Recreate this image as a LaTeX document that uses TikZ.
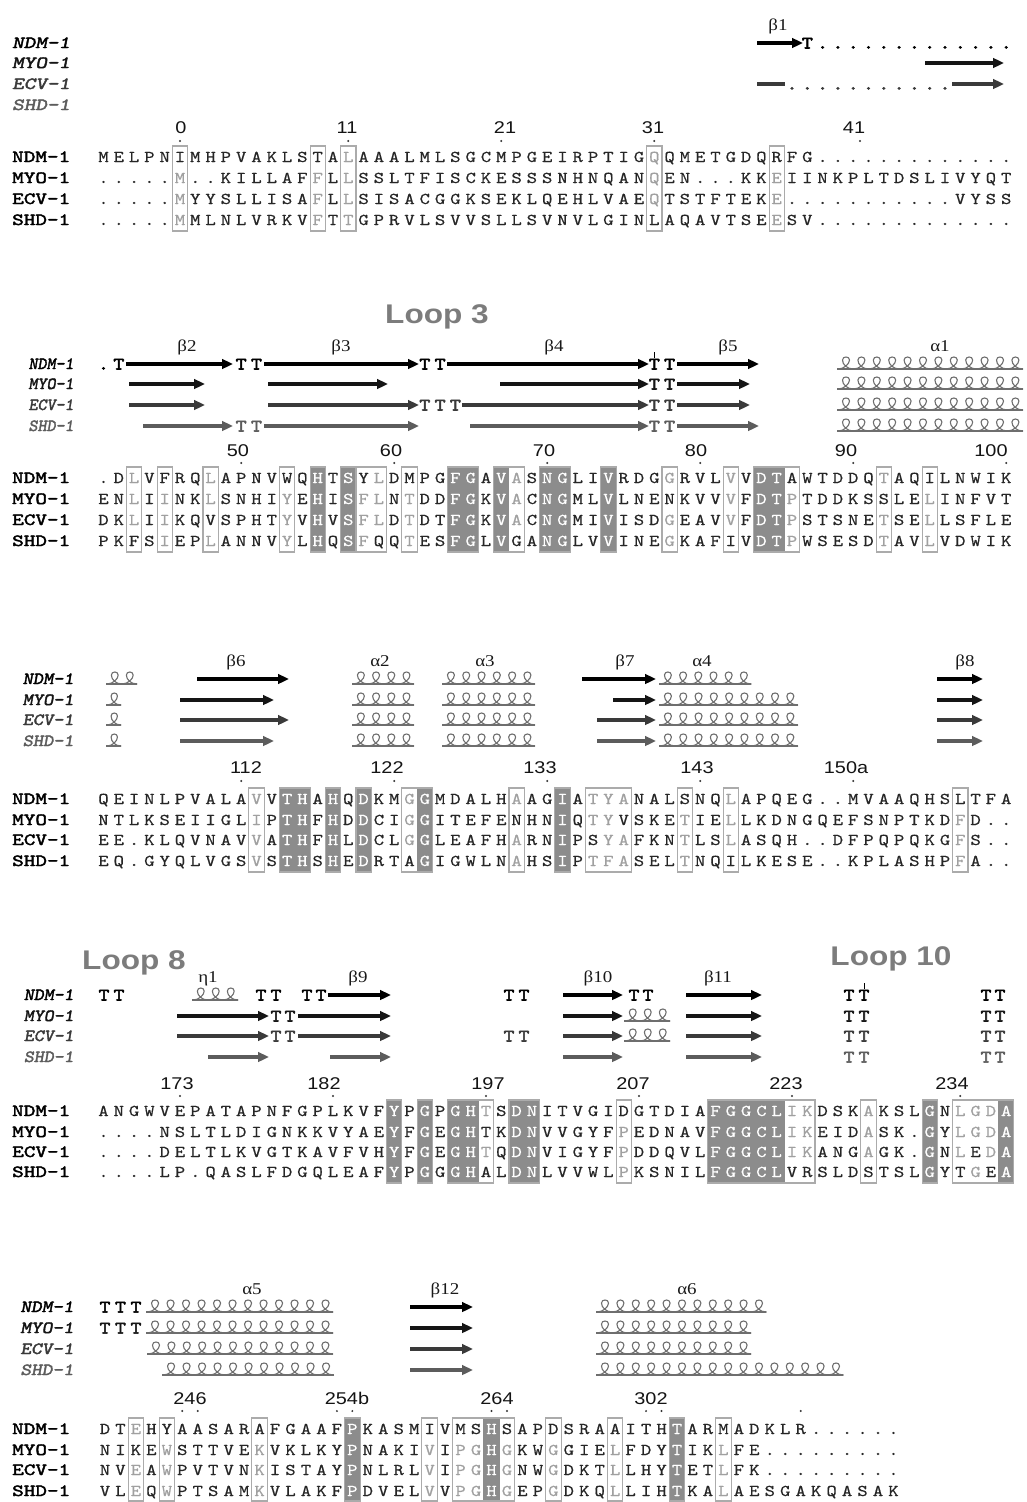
\documentclass[tikz,border=0pt]{standalone}
\usepackage{fontspec}
\usepackage{graphicx}
\usetikzlibrary{arrows.meta}
\newfontfamily\seqfont[FakeStretch=1.2, FakeBold=0.5]{lmmono10-regular.otf}
\newfontfamily\labfont[FakeStretch=1.3, FakeBold=2.5]{lmmono10-regular.otf}
\newfontfamily\slabfont[FakeStretch=1.3, FakeBold=2.5, FakeSlant=0.2]{lmmono10-regular.otf}
\newfontfamily\tfont[FakeStretch=1.2, FakeBold=3]{lmmono10-regular.otf}
\newfontfamily\numfont[FakeStretch=1.17]{Liberation Sans}
\newfontfamily\grkfont[FakeStretch=1.15]{Liberation Serif}
\definecolor{darklet}{HTML}{262626}
\definecolor{lightlet}{HTML}{A0A0A0}
\definecolor{shadefill}{HTML}{8C8C8C}
\definecolor{framecol}{HTML}{ABABAB}
\definecolor{helixcol}{HTML}{6E6E6E}
\definecolor{rowa}{HTML}{000000}
\definecolor{rowb}{HTML}{151515}
\definecolor{rowc}{HTML}{3A3A3A}
\definecolor{rowd}{HTML}{5C5C5C}
\definecolor{loopcol}{HTML}{7C7C7C}
\makeatletter
\newcount\seqcnt
\newcommand\seqrow[2]{%
  \global\seqcnt=0
  \@tfor\seqch:=#2\do{%
    \global\advance\seqcnt by 1
    \edef\seqtmp{\noexpand\in@{,\the\seqcnt,}{\shadelist}}\seqtmp
    \ifin@\def\seqcol{white}%
    \else\ifnum\expandafter`\seqch>96 \def\seqcol{lightlet}\else\def\seqcol{darklet}\fi\fi
    \node[seqch, text=\seqcol] at ({\xo+(\the\seqcnt-1)*\cw},{#1+5}) {\uppercase\expandafter{\seqch}};
  }}
\makeatother
\newcommand\shades[3]{\foreach \c in {#1} \fill[shadefill] ({\xo+(\c-1.5)*\cw-0.3},#2) rectangle ({\xo+(\c-0.5)*\cw+0.3},#3);}
\newcommand\frames[3]{\foreach \a/\b in {#1} \draw[framebox] ({\xo+(\a-1.5)*\cw},#2) rectangle ({\xo+(\b-0.5)*\cw},#3);}
\newcommand\helix[5]{%
  \foreach \hk in {1,...,#3}{%
    \begin{scope}[shift={({#1+(\hk-1)*#4},{#2+5})}, xscale={#4/15.4}]
      \draw[#5, line width=1.1pt, line cap=round, line join=round] (0,0) .. controls (6,0) and (11.5,-5) .. (11.5,-9) .. controls (11.5,-13) and (4.5,-13) .. (4.5,-9) .. controls (4.5,-4.5) and (9,0) .. (15.4,0);
    \end{scope}}
  \draw[#5, line width=1.1pt] ({#1-1},{#2+5}) -- ({#1+#3*#4},{#2+5});}
\newcommand\str[4]{\draw[strand, #4] (#1,#3) -- (#2,#3);}
\newcommand\sT[3]{\node[sst, text=#3] at (#1,{#2+5.5}) {T};}
\newcommand\qlab[2]{\node[seqlab] at (12,{#1+5}) {#2};}
\newcommand\slab[4]{\node[strlab, text=#3] at (74,{#1+5}) {\scalebox{#4}[1]{#2}};}
\begin{document}
\begin{tikzpicture}[x=1pt,y=-1pt,
  seqch/.style={anchor=base, inner sep=0pt, font=\seqfont\fontsize{16.5}{16.5}\selectfont},
  seqlab/.style={anchor=base west, inner sep=0pt, font=\labfont\fontsize{17}{17}\selectfont, text=black},
  strlab/.style={anchor=base east, inner sep=0pt, font=\slabfont\fontsize{17}{17}\selectfont},
  sst/.style={anchor=base, inner sep=0pt, font=\tfont\fontsize{17.5}{17.5}\selectfont},
  numlab/.style={anchor=base, inner sep=0pt, font=\numfont\fontsize{17}{17}\selectfont, text=black!92},
  sslab/.style={anchor=base, inner sep=0pt, font=\grkfont\fontsize{16.5}{16.5}\selectfont, text=black!90},
  looplab/.style={anchor=base, inner sep=0pt, font=\numfont\bfseries\fontsize{27}{27}\selectfont, text=loopcol},
  strand/.style={line width=3.2pt, -{Triangle[length=11pt,width=9.5pt]}},
  framebox/.style={draw=framecol, line width=1.1pt}]
\fill[white] (0,0) rectangle (1027,1502);
\path[use as bounding box] (0,0) rectangle (1027,1502);

% ================= BLOCK 1 =================
\def\xo{103.5}\def\cw{15.3}\def\shadelist{,}
\frames{6/6,15/15,17/17,37/37,45/45}{146}{231}
\seqrow{157}{MELPNIMHPVAKLSTAlAAALMLSGCMPGEIRPTIGqQMETGDQRFG.............}
\seqrow{178}{.....m..KILLAFfLlSSLTFISCKESSSNHNQANqEN...KKeIINKPLTDSLIVYQT}
\seqrow{199}{.....mYYSLLISAfLlSISACGGKSEKLQEHLVAEqTSTFTEKe...........VYSS}
\seqrow{220}{.....mMLNLVRKVfTtGPRVLSVVSLLSVNVLGINLAQAVTSEeSV.............}
\qlab{157}{NDM-1}\qlab{178}{MYO-1}\qlab{199}{ECV-1}\qlab{220}{SHD-1}
\node[strlab, anchor=base west, text=rowa] (b1n) at (12,48) {NDM-1};
\node[strlab, anchor=base west, text=rowb] (b1m) at (12,68) {MYO-1};
\node[strlab, anchor=base west, text=rowc] (b1e) at (12,89) {ECV-1};
\node[strlab, anchor=base west, text=rowd] (b1s) at (12,110) {SHD-1};
\foreach \t/\xx in {0/181,11/347,21/505,31/653,41/854} \node[numlab] at (\xx,133) {\t};
\foreach \xx in {180,348.3,501.3,654.3,860} \fill[black!80] (\xx,141) circle (1.1);
\node[sslab] at (778,30) {β1};
\str{757}{803}{43}{rowa}
\sT{807.3}{43}{rowa}
\foreach \c in {48,...,60} \node[sst,text=rowa] at ({\xo+(\c-1)*\cw},48.5) {.};
\str{925}{1004}{63}{rowb}
\draw[rowc, line width=3.2pt] (757,84) -- (785,84);
\foreach \c in {46,...,56} \node[sst,text=rowc] at ({\xo+(\c-1)*\cw},89.5) {.};
\str{952}{1004}{84}{rowc}

% ================= BLOCK 2 =================
\def\shadelist{,15,17,24,25,27,30,31,34,44,45,}
\shades{15,17,24,25,27,30,31,34,44,45}{467}{552}
\frames{3/3,5/5,8/8,13/13,15/15,17/17,18/19,21/21,24/25,27/28,30/31,34/34,38/38,42/42,44/46,52/52,55/55}{467}{552}
\seqrow{478}{.DlVFRQlAPNVWQHTSYlDMPGFGAVaSNGLIVRDGgRVLvVDTAWTDDQtAQILNWIK}
\seqrow{499}{ENlIiNKlSNHIyEHISflNtDDFGKVaCNGMLVLNENKVVvFDTpTDDKSSLElINFVT}
\seqrow{520}{DKlIiKQVSPHTyVHVSflDtDTFGKVaCNGMIVISDgEAVvFDTpSTSNEtSElLSFLE}
\seqrow{541}{PKFSiEPlANNVyLHQSfQQtESFGLVGANGLVVINEgKAFIVDTpWSESDtAVlVDWIK}
\qlab{478}{NDM-1}\qlab{499}{MYO-1}\qlab{520}{ECV-1}\qlab{541}{SHD-1}
\slab{364}{NDM-1}{rowa}{0.78}\slab{384}{MYO-1}{rowb}{0.78}\slab{405}{ECV-1}{rowc}{0.78}\slab{426}{SHD-1}{rowd}{0.78}
\foreach \t/\xx in {50/238,60/391,70/544,80/696,90/846,100/991} \node[numlab] at (\xx,456) {\t};
\foreach \c in {10,20,30,40,50,60} \fill[black!80] ({\xo+(\c-1)*\cw},463) circle (1.1);
\node[looplab] (loop3) at (437,323) {Loop 3};
\foreach \t/\xx in {β2/187,β3/341,β4/554,β5/728,α1/940} \node[sslab] at (\xx,351) {\t};
% NDM
\node[sst,text=rowa] at (103.5,369.5) {.};
\sT{118.8}{364}{rowa}
\str{126}{233}{364}{rowa}
\sT{241.2}{364}{rowa}\sT{256.5}{364}{rowa}
\str{264}{419}{364}{rowa}
\sT{424.8}{364}{rowa}\sT{440.1}{364}{rowa}
\str{447}{649}{364}{rowa}
\sT{654.3}{364}{rowa}\sT{669.6}{364}{rowa}
\draw[rowa, line width=1pt] (654.3,352) -- (654.3,358);
\str{677}{759}{364}{rowa}
% MYO
\str{129}{205}{384}{rowb}
\str{268}{388}{384}{rowb}
\str{500}{649}{384}{rowb}
\sT{654.3}{384}{rowb}\sT{669.6}{384}{rowb}
\str{677}{750}{384}{rowb}
% ECV
\str{129}{205}{405}{rowc}
\str{268}{419}{405}{rowc}
\sT{424.8}{405}{rowc}\sT{440.1}{405}{rowc}\sT{455.4}{405}{rowc}
\str{462}{649}{405}{rowc}
\sT{654.3}{405}{rowc}\sT{669.6}{405}{rowc}
\str{677}{750}{405}{rowc}
% SHD
\str{143}{233}{426}{rowd}
\sT{241.2}{426}{rowd}\sT{256.5}{426}{rowd}
\str{264}{419}{426}{rowd}
\str{470}{649}{426}{rowd}
\sT{654.3}{426}{rowd}\sT{669.6}{426}{rowd}
\str{677}{759}{426}{rowd}
\foreach \yy in {364,384,405,426} {\helix{838}{\yy}{12}{15.4}{helixcol}}

% ================= BLOCK 3 =================
\def\shadelist{,13,14,16,18,22,31,}
\shades{13,14,16,18,22,31}{788}{872}
\frames{11/11,13/14,16/16,18/18,21/22,28/28,31/31,33/35,39/39,42/42,57/57}{788}{872}
\seqrow{799}{QEINLPVALAvVTHAHQDKMgGMDALHaAGIAtyaNALSNQlAPQEG..MVAAQHSLTFA}
\seqrow{820}{NTLKSEIIGLiPTHFHDDCIgGITEFENHNIQtyVSKEtIElLKDNGQEFSNPTKDfD..}
\seqrow{840}{EE.KLQVNAVvATHFHLDCLgGLEAFHaRNIPSyaFKNtLSlASQH..DFPQPQKGfS..}
\seqrow{861}{EQ.GYQLVGSvSTHSHEDRTAGIGWLNaHSIPtfaSELtNQILKESE..KPLASHPfA..}
\qlab{799}{NDM-1}\qlab{820}{MYO-1}\qlab{840}{ECV-1}\qlab{861}{SHD-1}
\slab{679}{NDM-1}{rowa}{0.88}\slab{700}{MYO-1}{rowb}{0.88}\slab{720}{ECV-1}{rowc}{0.88}\slab{741}{SHD-1}{rowd}{0.88}
\foreach \t/\xx in {112/246,122/387,133/540,143/697,150a/846} \node[numlab] at (\xx,773) {\t};
\foreach \c in {10,20,30,40,50} \fill[black!80] ({\xo+(\c-1)*\cw},781) circle (1.1);
\foreach \t/\xx in {β6/236,α2/380,α3/485,β7/625,α4/702,β8/965} \node[sslab] at (\xx,666) {\t};
% NDM
\helix{107}{679}{2}{15}{helixcol}
\str{197}{289}{679}{rowa}
\str{582}{656}{679}{rowa}
\helix{660}{679}{6}{15.2}{helixcol}
\str{937}{983}{679}{rowa}
% MYO
\helix{107}{700}{1}{14}{helixcol}
\str{180}{274}{700}{rowb}
\str{613}{656}{700}{rowb}
\helix{660}{700}{9}{15.3}{helixcol}
\str{937}{983}{700}{rowb}
% ECV
\helix{107}{720}{1}{14}{helixcol}
\str{180}{289}{720}{rowc}
\str{597}{656}{720}{rowc}
\helix{660}{720}{9}{15.3}{helixcol}
\str{937}{983}{720}{rowc}
% SHD
\helix{107}{741}{1}{14}{helixcol}
\str{180}{274}{741}{rowd}
\str{597}{656}{741}{rowd}
\helix{660}{741}{9}{15.3}{helixcol}
\str{937}{983}{741}{rowd}
\foreach \yy in {679,700,720,741} {\helix{353}{\yy}{4}{15.2}{helixcol}\helix{443}{\yy}{6}{15.3}{helixcol}}

% ================= BLOCK 4 =================
\def\shadelist{,20,22,24,25,28,29,41,42,43,44,45,55,60,}
\shades{20,22,24,25,28,29,41,42,43,44,45,55,60}{1100}{1183}
\frames{20/20,22/22,24/26,28/29,35/35,41/47,51/51,55/55,57/60}{1100}{1183}
\seqrow{1111}{ANGWVEPATAPNFGPLKVFYPGPGHtSDNITVGIDGTDIAFGGCLikDSKaKSLGNlgdA}
\seqrow{1132}{....NSLTLDIGNKKVYAEYFGEGHTKDNVVGYFpEDNAVFGGCLikEIDaSK.GYlgdA}
\seqrow{1152}{....DELTLKVGTKAVFVHYFGEGHtQDNVIGYFpDDQVLFGGCLikANGaGK.GNlEdA}
\seqrow{1172}{....LP.QASLFDGQLEAFYPGGGHALDNLVVWLpKSNILFGGCLVRSLDSTSLGYTgEA}
\qlab{1111}{NDM-1}\qlab{1132}{MYO-1}\qlab{1152}{ECV-1}\qlab{1172}{SHD-1}
\slab{995}{NDM-1}{rowa}{0.86}\slab{1016}{MYO-1}{rowb}{0.86}\slab{1036}{ECV-1}{rowc}{0.86}\slab{1057}{SHD-1}{rowd}{0.86}
\foreach \t/\xx in {173/177,182/324,197/488,207/633,223/786,234/952} \node[numlab] at (\xx,1089) {\t};
\foreach \c in {6,16,26,36,46,57} \fill[black!80] ({\xo+(\c-1)*\cw},1096) circle (1.1);
\node[looplab] (loop8) at (134,969) {Loop 8};
\node[looplab] (loop10) at (891,965) {Loop 10};
\foreach \t/\xx in {η1/208,β9/358,β10/598,β11/718} \node[sslab] at (\xx,982) {\t};
% NDM
\sT{104}{995}{rowa}\sT{119}{995}{rowa}
\helix{193}{995}{3}{15}{helixcol}
\sT{261}{995}{rowa}\sT{276}{995}{rowa}
\sT{307}{995}{rowa}\sT{321}{995}{rowa}
\str{328}{391}{995}{rowa}
\sT{509}{995}{rowa}\sT{524}{995}{rowa}
\str{563}{623}{995}{rowa}
\sT{634}{995}{rowa}\sT{648}{995}{rowa}
\str{686}{762}{995}{rowa}
\sT{849}{995}{rowa}\sT{864}{995}{rowa}
\draw[rowa, line width=1pt] (864,983) -- (864,989);
\sT{986}{995}{rowa}\sT{1000}{995}{rowa}
% MYO
\str{177}{269}{1016}{rowb}
\sT{276}{1016}{rowb}\sT{290}{1016}{rowb}
\str{298}{391}{1016}{rowb}
\str{563}{623}{1016}{rowb}
\helix{625}{1016}{3}{15}{helixcol}
\str{686}{762}{1016}{rowb}
\sT{849}{1016}{rowb}\sT{864}{1016}{rowb}
\sT{986}{1016}{rowb}\sT{1000}{1016}{rowb}
% ECV
\str{177}{269}{1036}{rowc}
\sT{276}{1036}{rowc}\sT{290}{1036}{rowc}
\str{298}{391}{1036}{rowc}
\sT{509}{1036}{rowc}\sT{524}{1036}{rowc}
\str{563}{623}{1036}{rowc}
\helix{625}{1036}{3}{15}{helixcol}
\str{686}{762}{1036}{rowc}
\sT{849}{1036}{rowc}\sT{864}{1036}{rowc}
\sT{986}{1036}{rowc}\sT{1000}{1036}{rowc}
% SHD
\str{208}{269}{1057}{rowd}
\str{330}{391}{1057}{rowd}
\str{563}{623}{1057}{rowd}
\str{686}{762}{1057}{rowd}
\sT{849}{1057}{rowd}\sT{864}{1057}{rowd}
\sT{986}{1057}{rowd}\sT{1000}{1057}{rowd}

% ================= BLOCK 5 =================
\def\xo{105}\def\cw{15.46}
\def\shadelist{,17,26,38,}
\shades{17,26,38}{1418}{1501}
\frames{3/3,5/5,11/11,17/17,22/22,24/27,30/30,34/34,38/38,41/41}{1418}{1501}
\seqrow{1429}{DTeHYAASARAFGAAFPKASMIVMSHSAPDSRAAITHTARMADKLR......}
\seqrow{1450}{NIKEwSTTVEkVKLKYPNAKIvIpgHgKWgGIElFDYTIKlFE.........}
\seqrow{1470}{NVeAwPVTVNkISTAYPNLRLvIpgHgNWgDKTlLHYTETlFK.........}
\seqrow{1491}{VLeQwPTSAMkVLAKFPDVELvVpgHgEPgDKQlLIHTKAlAESGAKQASAK}
\qlab{1429}{NDM-1}\qlab{1450}{MYO-1}\qlab{1470}{ECV-1}\qlab{1491}{SHD-1}
\slab{1307}{NDM-1}{rowa}{0.92}\slab{1328}{MYO-1}{rowb}{0.92}\slab{1349}{ECV-1}{rowc}{0.92}\slab{1370}{SHD-1}{rowd}{0.92}
\foreach \t/\xx in {246/190,254b/347,264/497,302/651} \node[numlab] at (\xx,1404) {\t};
\foreach \c in {6,7,16,17,26,27,36,37,46} \fill[black!80] ({\xo+(\c-1)*\cw},1411) circle (1.1);
\foreach \t/\xx in {α5/252,β12/445,α6/687} \node[sslab] at (\xx,1294) {\t};
\sT{105}{1307}{rowa}\sT{120.5}{1307}{rowa}\sT{136}{1307}{rowa}
\sT{105}{1328}{rowb}\sT{120.5}{1328}{rowb}\sT{136}{1328}{rowb}
\helix{147}{1307}{12}{15.5}{helixcol}
\helix{147}{1328}{12}{15.5}{helixcol}
\helix{148}{1349}{12}{15.4}{helixcol}
\helix{163}{1370}{11}{15.5}{helixcol}
\str{410}{473}{1307}{rowa}
\str{410}{473}{1328}{rowb}
\str{410}{473}{1349}{rowc}
\str{410}{473}{1370}{rowd}
\helix{597}{1307}{11}{15.4}{helixcol}
\helix{597}{1328}{10}{15.4}{helixcol}
\helix{597}{1349}{10}{15.4}{helixcol}
\helix{597}{1370}{16}{15.4}{helixcol}
\end{tikzpicture}
\end{document}
